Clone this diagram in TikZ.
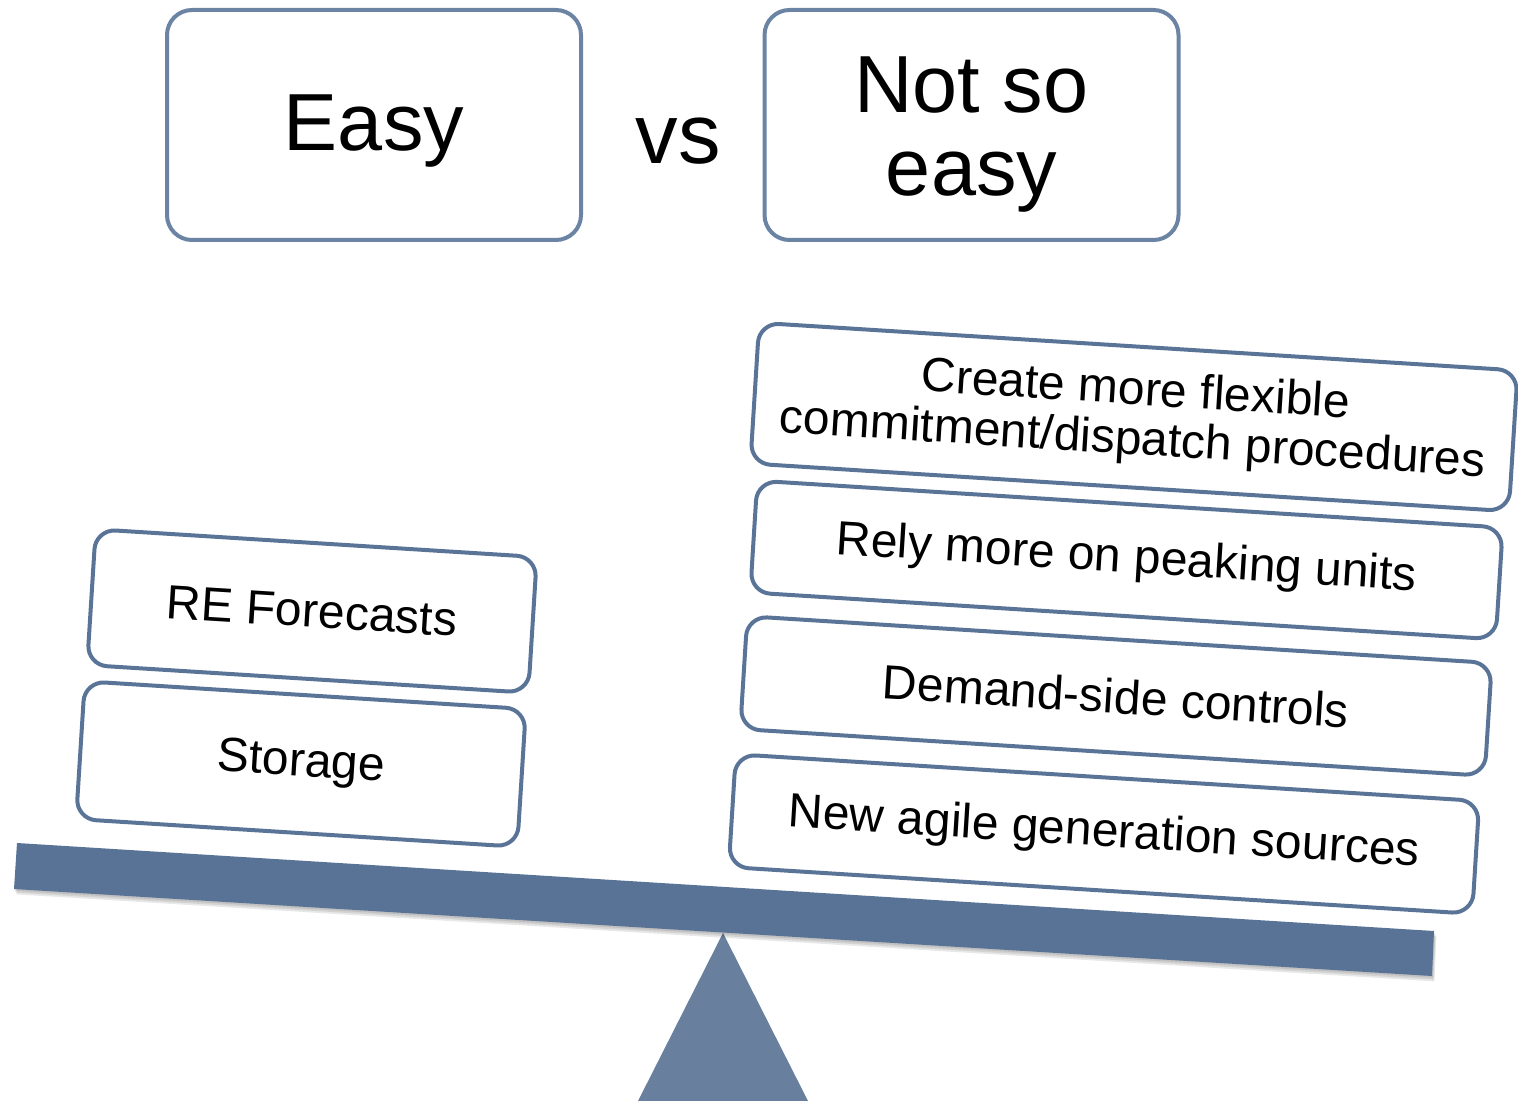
\documentclass[tikz,border=0pt]{standalone}
\usepackage{fontspec}
\setmainfont{Liberation Sans}
\definecolor{beamc}{HTML}{587396}
\definecolor{fulc}{HTML}{687F9D}
\definecolor{topb}{HTML}{6C84A3}
\definecolor{tiltb}{HTML}{5A7498}
\begin{document}
\begin{tikzpicture}[x=0.5pt,y=-0.5pt,
  topbox/.style={draw=topb, line width=2pt, rounded corners=12.5pt, fill=white,
    align=center, inner sep=0pt, minimum width=207pt, minimum height=115pt,
    font=\fontsize{40.5}{41.5}\selectfont},
  tiltbox/.style={draw=tiltb, line width=2pt, rounded corners=10pt, fill=white,
    align=center, inner sep=0pt, rotate=-3.6,
    font=\fontsize{24}{25}\selectfont},
  shadowlayer/.style={fill=black, opacity=0.09},
]
\useasboundingbox (0,0) rectangle (1518,1101);
\clip (0,0) rectangle (1518,1101);

% fulcrum
\fill[fulc] (723,933) -- (808,1101) -- (638,1101) -- cycle;

% beam shadow and beam
\foreach \s in {1,2,3}{
  \fill[shadowlayer, shift={(\s*0.8,\s*1.8)}] (17,843) -- (1434,931) -- (1432,976) -- (14,889) -- cycle;
}
\fill[beamc] (17,843) -- (1434,931) -- (1432,976) -- (14,889) -- cycle;

% headings
\node[topbox] (easy) at (374,125) {\rule{0pt}{34pt}Easy};
\node[topbox] (hard) at (971.5,125) {\rule{0pt}{37pt}Not so\\easy};
\node[font=\fontsize{42.5}{44}\selectfont, inner sep=0pt] (vs) at (678,141) {vs};

% left pan
\node[tiltbox, minimum width=221pt, minimum height=68pt] (re) at (312,611) {RE Forecasts};
\node[tiltbox, minimum width=221pt, minimum height=69pt] (storage) at (301,764) {Storage};

% right pan
\node[tiltbox, minimum width=380pt, minimum height=70.5pt] (create) at (1134,417) {Create more flexible\\commitment/dispatch procedures};
\node[tiltbox, minimum width=373.5pt, minimum height=56pt] (rely) at (1126.5,560) {Rely more on peaking units};
\node[tiltbox, minimum width=373pt, minimum height=56.5pt] (demand) at (1116,696) {Demand-side controls};
\node[tiltbox, minimum width=372.5pt, minimum height=56.5pt] (agile) at (1104,834) {New agile generation sources};
\end{tikzpicture}
\end{document}
